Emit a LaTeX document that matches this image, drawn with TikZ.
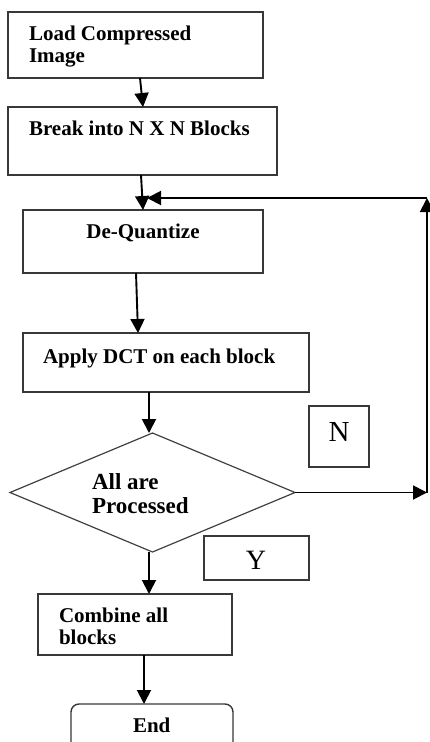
\documentclass[tikz,border=0pt]{standalone}
\usepackage{fontspec}
\setmainfont{Liberation Serif}
\usetikzlibrary{arrows.meta,shapes.geometric,calc}
\tikzset{
  boxst/.style={draw=black!78,line width=1.4pt,rectangle,inner sep=0pt,outer sep=0pt,anchor=north west},
  arr/.style={draw=black,line width=1.9pt,-{Triangle[length=14pt,width=14pt]}},
  lbl/.style={inner sep=0pt,outer sep=0pt,align=left,font=\bfseries\fontsize{21}{22}\selectfont},
  yn/.style={inner sep=0pt,outer sep=0pt,anchor=base}
}
\begin{document}
\begin{tikzpicture}[x=1pt,y=-1pt]
\useasboundingbox (0,0) rectangle (429,742);
% boxes
\node[boxst,minimum width=255pt,minimum height=66pt] (b1) at (8,12) {};
\node[boxst,minimum width=269pt,minimum height=68pt] (b2) at (8,107) {};
\node[boxst,minimum width=240pt,minimum height=63pt] (b3) at (23,210) {};
\node[boxst,minimum width=286pt,minimum height=59pt] (b4) at (23,333) {};
\node[draw=black!75,line width=1.2pt,diamond,inner sep=0pt,outer sep=0pt,minimum width=285pt,minimum height=119pt] (dia) at (152.5,492.5) {};
\node[boxst,minimum width=60pt,minimum height=61pt] (bN) at (309,406) {};
\node[boxst,minimum width=105pt,minimum height=44pt] (bY) at (204,536) {};
\node[boxst,minimum width=194pt,minimum height=61pt] (b5) at (38,594) {};
\node[boxst,rounded corners=8pt,minimum width=162pt,minimum height=60pt] (bE) at (71,704) {};
% texts (base anchor = baseline of the last line)
\node[lbl,anchor=base west] (t1) at (29,62) {Load Compressed\\Image};
\node[lbl,anchor=base west] (t2) at (29,135) {Break into N X N Blocks};
\node[lbl,anchor=base] (t3) at (143,238) {De-Quantize};
\node[lbl,anchor=base west] (t4) at (43,363) {Apply DCT on each block};
\node[lbl,anchor=base west,font=\bfseries\fontsize{23}{24}\selectfont] (tD) at (92,513) {All are\\Processed};
\node[lbl,anchor=base west] (t5) at (59,644) {Combine all\\blocks};
\node[lbl,anchor=base west] (tE) at (133,732) {End};
\node[yn,font=\fontsize{29}{30}\selectfont] (tN) at (339,441) {N};
\node[yn,font=\fontsize{28}{30}\selectfont] (tY) at (256,569) {Y};
% connectors
\draw[arr] ([xshift=132pt]b1.south west) -- ([xshift=135pt]b2.north west);
\draw[arr] ([xshift=133pt]b2.south west) -- ([xshift=120pt]b3.north west);
\draw[arr] ([xshift=113pt]b3.south west) -- ([xshift=115pt]b4.north west);
\draw[arr] ([xshift=126pt]b4.south west) -- ([xshift=126pt]b4.south west |- dia.north);
\draw[arr] ([xshift=111pt]b5.north west |- dia.south) -- ([xshift=111pt]b5.north west);
\draw[arr] ([xshift=106pt]b5.south west) -- ([xshift=73pt]bE.north west);
% feedback loop
\coordinate (c1) at (427,492.5);
\coordinate (c2) at (427,198);
\coordinate (c3) at (147,198);
\draw[arr] (dia.east) -- (c1);
\draw[arr] (c1) -- (c2);
\draw[arr] (c2) -- (c3);
\end{tikzpicture}
\end{document}
